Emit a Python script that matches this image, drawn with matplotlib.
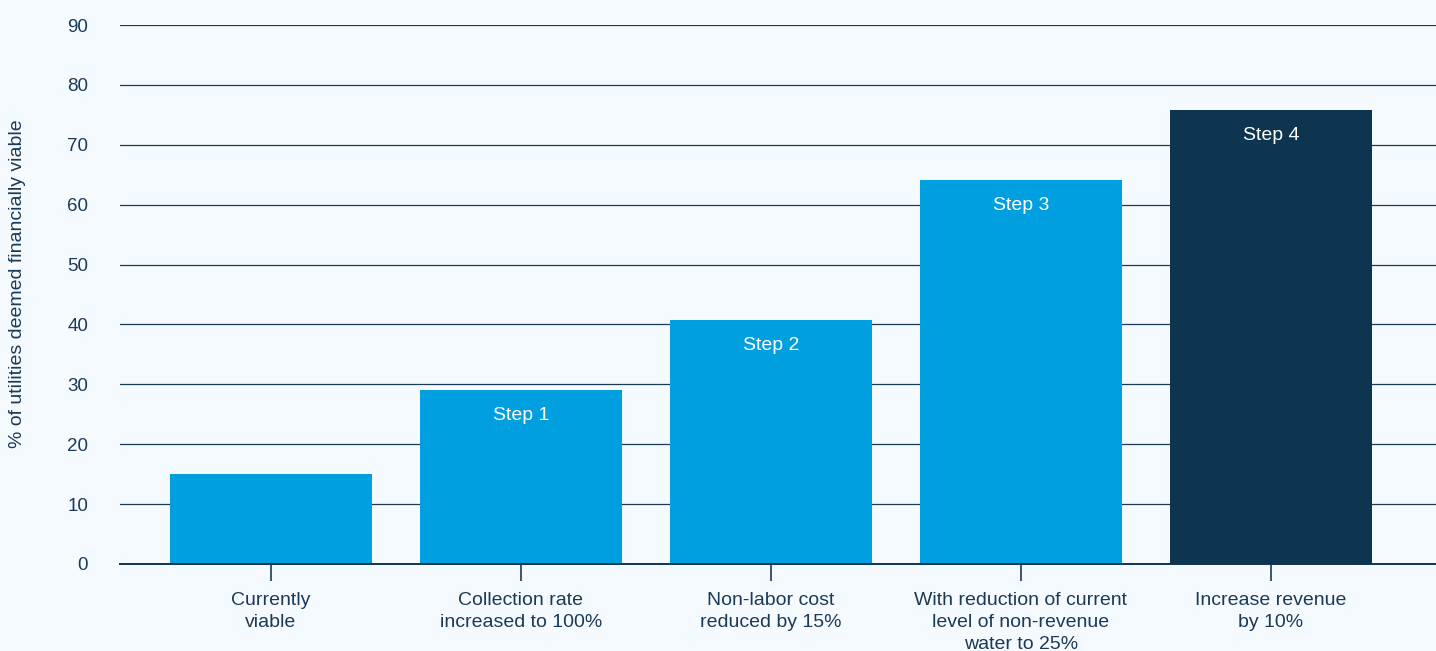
import numpy as np
import matplotlib.pyplot as plt

plt.rcParams['font.family'] = ['Liberation Sans', 'DejaVu Sans']

categories = ["Currently\nviable", "Collection rate\nincreased to 100%",
              "Non-labor cost\nreduced by 15%",
              "With reduction of current\nlevel of non-revenue\nwater to 25%",
              "Increase revenue\nby 10%"]
values = [15, 29, 40.7, 64.1, 75.8]
step_labels = ["", "Step 1", "Step 2", "Step 3", "Step 4"]
yticks = [0, 10, 20, 30, 40, 50, 60, 70, 80, 90]

bg = "#f5faff"
blue = "#009fe0"
navy = "#0e3550"
ink = "#1b3a56"
colors = [blue, blue, blue, blue, navy]

fig = plt.figure(figsize=(14.36, 6.51), dpi=100, facecolor=bg)
ax = fig.add_axes([120 / 1436, 87 / 651, 1316 / 1436, 539 / 651])
ax.set_facecolor(bg)

x = np.arange(len(categories))
bars = ax.bar(x, values, width=0.808, color=colors, zorder=3)

for b, lab in zip(bars, step_labels):
    if lab:
        ax.annotate(lab, (b.get_x() + b.get_width() / 2, b.get_height()),
                    xytext=(0, -25), textcoords="offset pixels",
                    ha="center", va="center", color="white", fontsize=14, zorder=4)

ax.set_ylim(0, 90)
ax.set_xlim(-0.604, 4.66)
ax.set_yticks(yticks)
ax.yaxis.grid(True, color=ink, linewidth=0.9, zorder=1)
ax.set_axisbelow(True)
ax.tick_params(axis="y", length=0, pad=23, labelsize=13.5, labelcolor=ink)
ax.set_xticks(x)
ax.set_xticklabels(categories, fontsize=14, color=ink, linespacing=1.38)
ax.tick_params(axis="x", length=12, width=1.2, color=ink, pad=8)
for s in ["top", "right", "left"]:
    ax.spines[s].set_visible(False)
ax.spines["bottom"].set_color(navy)
ax.spines["bottom"].set_linewidth(1.4)
ax.spines["bottom"].set_zorder(5)

fig.text(18 / 1436, 1 - 284 / 651, "% of utilities deemed financially viable",
         rotation=90, ha="center", va="center", fontsize=14, color=ink)

fig.savefig("out.png", dpi=100, facecolor=bg)
